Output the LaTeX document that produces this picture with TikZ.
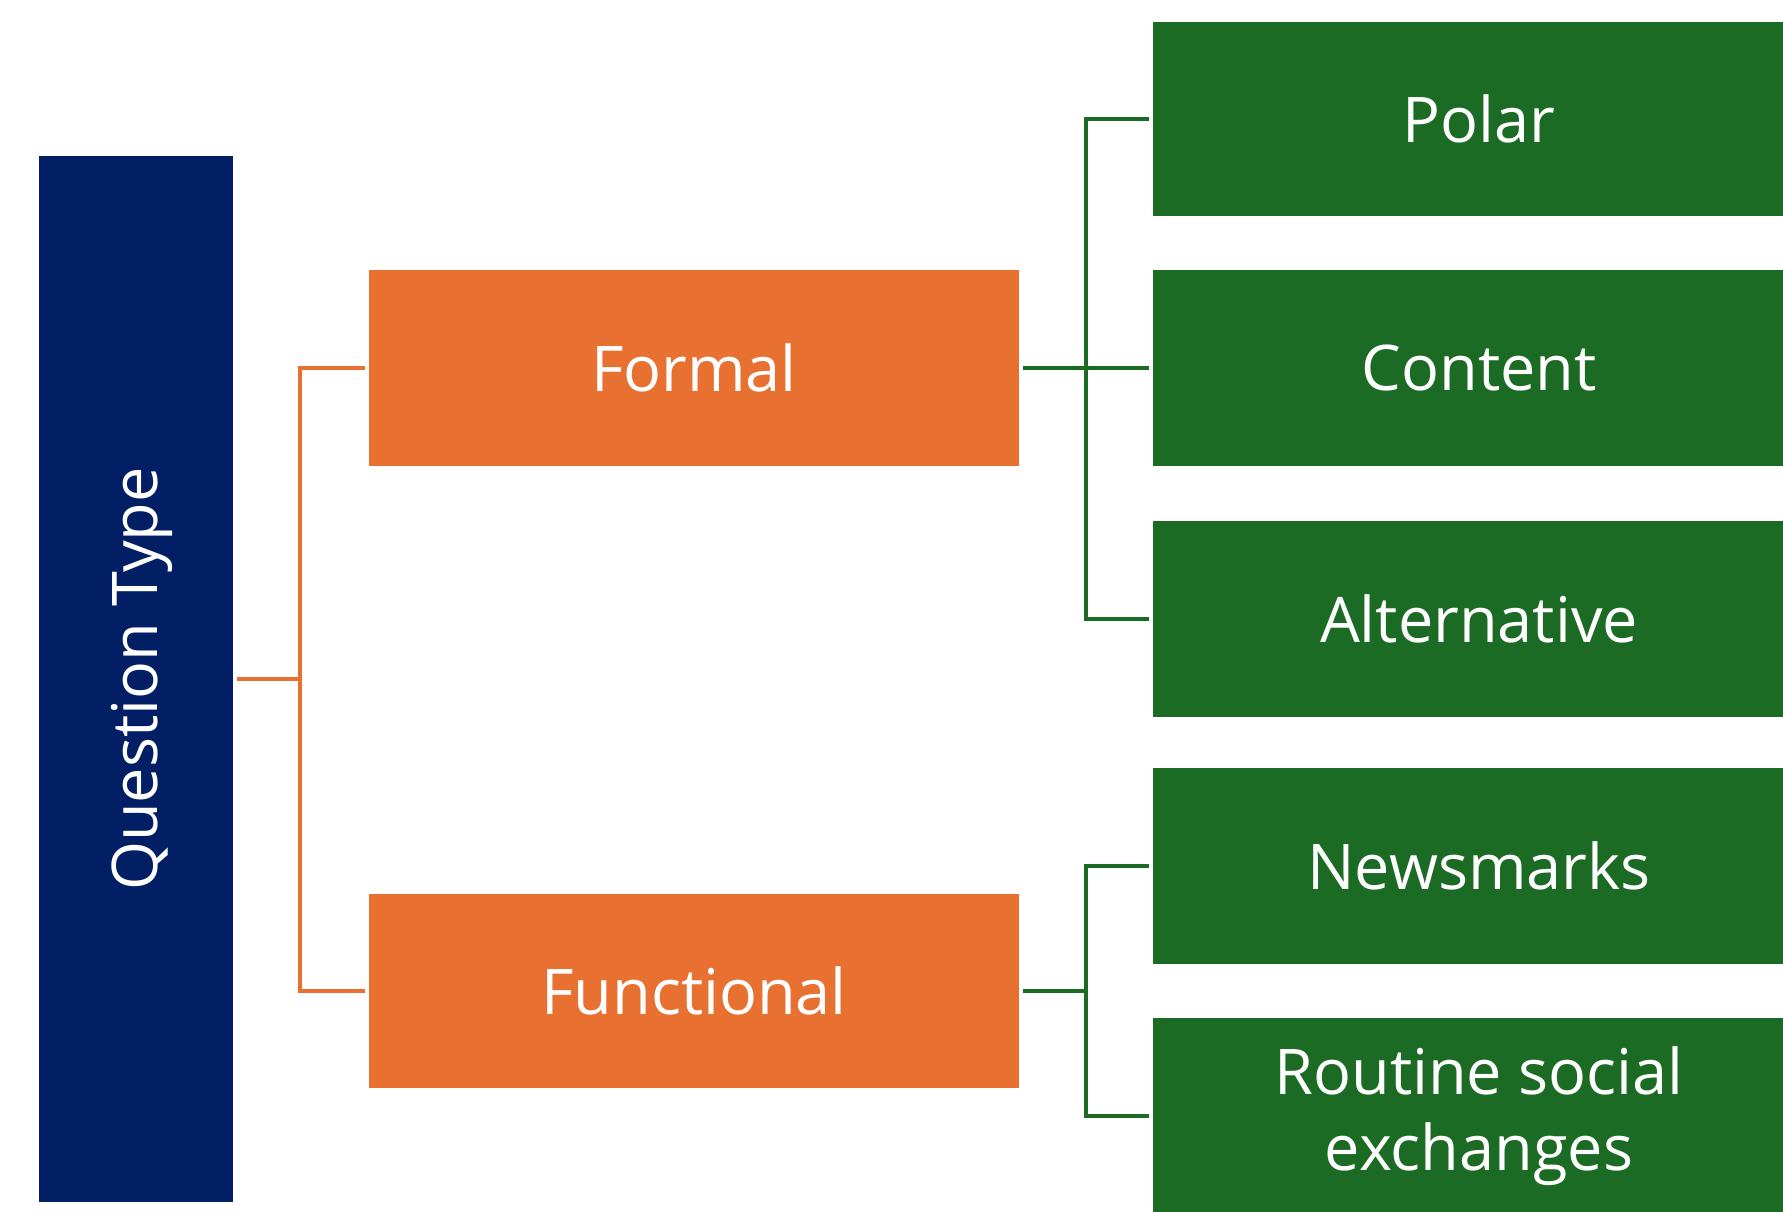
\documentclass[tikz,border=0pt]{standalone}
\usepackage{fontspec}
\setmainfont{Open Sans}
\definecolor{qblue}{HTML}{021F66}
\definecolor{qorange}{HTML}{E87132}
\definecolor{qgreen}{HTML}{1B6B24}
\begin{document}
\begin{tikzpicture}[x=1pt,y=-1pt,
  box/.style={rectangle,inner sep=0pt,outer sep=0pt,anchor=north west,text=white,align=center,font=\fontsize{63}{76}\selectfont},
  bluebox/.style={box,fill=qblue},
  orangebox/.style={box,fill=qorange},
  greenbox/.style={box,fill=qgreen},
  oline/.style={draw=qorange,line width=4pt,line join=miter},
  gline/.style={draw=qgreen,line width=4pt,line join=miter}]
\useasboundingbox (0,0) rectangle (1783,1212);
\clip (0,0) rectangle (1783,1212);
\fill[white] (0,0) rectangle (1783,1212);
\node[bluebox,minimum width=194pt,minimum height=1046pt] (q) at (39,156) {};
\node[xshift=6pt,rotate=90,text=white,font=\fontsize{63}{76}\selectfont] (qt) at (q.center) {Question Type};
\node[orangebox,minimum width=650pt,minimum height=196pt] (formal) at (369,270) {Formal};
\node[orangebox,minimum width=650pt,minimum height=194pt] (functional) at (369,894) {Functional};
\node[greenbox,minimum width=652pt,minimum height=194pt] (polar) at (1153,22) {Polar};
\node[greenbox,minimum width=652pt,minimum height=196pt] (content) at (1153,270) {Content};
\node[greenbox,minimum width=652pt,minimum height=196pt] (alt) at (1153,521) {Alternative};
\node[greenbox,minimum width=652pt,minimum height=196pt] (news) at (1153,768) {Newsmarks};
\node[greenbox,minimum width=652pt,minimum height=196pt] (routine) at (1153,1018) {Routine social\\exchanges};
\coordinate (oj) at (300,679);
\coordinate (gj) at (1086,368);
\coordinate (gk) at (1086,991);
\draw[oline,shorten <=4pt] (q.east) -- (oj);
\draw[oline,shorten <=4pt,shorten >=4pt] (formal.west) -| (oj) |- (functional.west);
\draw[gline,shorten <=4pt] (formal.east) -- (gj);
\draw[gline,shorten <=4pt] (content.west) -- (gj);
\draw[gline,shorten <=4pt,shorten >=4pt] (polar.west) -| (gj) |- (alt.west);
\draw[gline,shorten <=4pt] (functional.east) -- (gk);
\draw[gline,shorten <=4pt,shorten >=4pt] (news.west) -| (gk) |- (routine.west);
\end{tikzpicture}
\end{document}
